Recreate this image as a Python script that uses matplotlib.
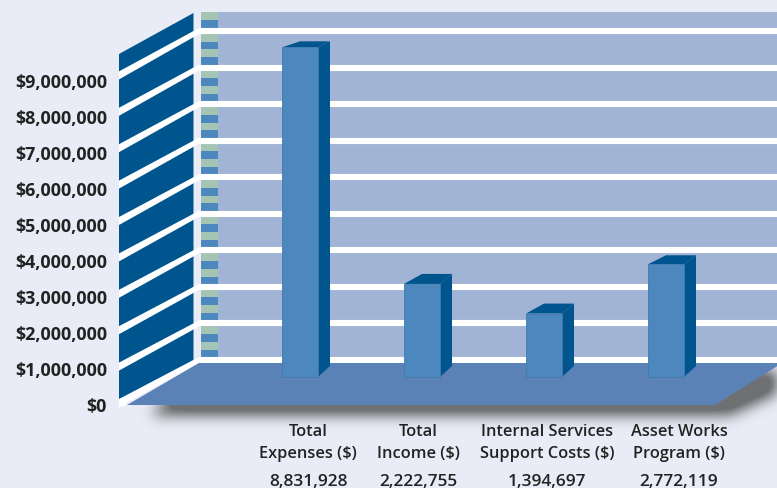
import numpy as np
import matplotlib
matplotlib.use("Agg")
import matplotlib.pyplot as plt
from matplotlib.patches import Polygon, Rectangle
from matplotlib.path import Path

# Budget figures
categories = ["Total\nExpenses ($)", "Total\nIncome ($)",
              "Internal Services\nSupport Costs ($)", "Asset Works\nProgram ($)"]
values = [8831928, 2222755, 1394697, 2772119]
value_labels = ["8,831,928", "2,222,755", "1,394,697", "2,772,119"]
tick_values = list(range(0, 10000000, 1000000))
tick_labels = [f"${v:,}" for v in tick_values]

W, H = 777, 489
BG = "#E9ECF6"
WALL = "#A1B4D6"
FLOOR = "#5B82B6"
DARK = "#00558F"
BAR = "#4C87BE"
GREEN = "#A4C4B4"
INK = "#222222"

plt.rcParams["font.family"] = ["Open Sans", "DejaVu Sans"]

fig = plt.figure(figsize=(W / 100, H / 100), dpi=100, facecolor=BG)

# Scene axes work in pixel-like units, y downward
ax = fig.add_axes([0, 0, 1, 1])
ax.set_xlim(0, W)
ax.set_ylim(H, 0)
ax.axis("off")

# Soft shadow under the floor; the outline is closed explicitly for the hit test
floor_pts = [(127, 406), (199, 364), (W + 2, 364), (W + 2, 366), (715, 406)]
shadow_pts = [(150, 416), (199, 372), (W + 40, 372), (W + 40, 376), (730, 416), (150, 416)]
gx, gy = np.meshgrid(np.arange(W), np.arange(H))
mask = Path(shadow_pts).contains_points(np.c_[gx.ravel() + .5, gy.ravel() + .5]).reshape(H, W).astype(float)
kernel = np.exp(-0.5 * (np.arange(-30, 31) / 7.0) ** 2)
kernel /= kernel.sum()
blur = np.apply_along_axis(lambda r: np.convolve(r, kernel, mode="same"), 0, mask)
blur = np.apply_along_axis(lambda r: np.convolve(r, kernel, mode="same"), 1, blur)
rgba = np.zeros((H, W, 4))
rgba[..., :3] = 0.3
rgba[..., 3] = np.clip(blur, 0, 0.78)
ax.imshow(rgba, extent=(0, W, H, 0), aspect="auto", zorder=1, interpolation="bilinear")
ax.set_xlim(0, W)
ax.set_ylim(H, 0)

# Back wall
ax.add_patch(Rectangle((218, 13), W - 218, 352, fc=WALL, ec="none", zorder=2))

# Side wall panel
ax.add_patch(Polygon([(119, 55), (193.5, 14), (193.5, 362), (119, 404)], fc=DARK, ec="none", zorder=2))

# Gridlines on both walls, with the striped strip between each pair
back_y = [361 - 36.55 * k for k in range(len(tick_values) + 1)]
side_y = [404 - 36.4 * k for k in range(len(tick_values))]
for k, tick in enumerate(tick_values):
    y = back_y[k]
    ax.plot([199, W + 2], [y, y], color="white", lw=4.4, solid_capstyle="butt", zorder=3)
    ax.add_patch(Polygon([(119, side_y[k] - 4), (199, y - 3), (199, y + 3), (119, side_y[k] + 4)],
                         fc="white", ec="none", zorder=3))
for k in range(len(tick_values)):
    bottom = back_y[k] - 2.6
    colours = [BAR, GREEN, BAR, GREEN] if k < 9 else [BAR, GREEN]
    if k == 9:
        bottom = 29
    for j, c in enumerate(colours):
        ax.add_patch(Rectangle((201, bottom - 7.8 * (j + 1)), 17, 7.8, fc=c, ec="none", zorder=2.5))

# Floor
ax.add_patch(Polygon(floor_pts, fc=FLOOR, ec="none", zorder=4))
ax.add_patch(Polygon([(119, 400), (126, 400), (127, 406), (119, 408)], fc="white", ec="none", zorder=3))

# Value scale labels beside the side wall
for k, label in enumerate(tick_labels):
    ax.text(107, 407 - 36 * k, label, ha="right", va="center", fontsize=12.9,
            fontweight="bold", color=INK, zorder=6)

# Bars use a dollar scale sharing the same canvas
px_per_dollar = 35.8e-6
zero_px = 364.5
bar_ax = fig.add_axes([0, 0, 1, 1], facecolor="none")
bar_ax.axis("off")
bar_ax.set_xlim(0, W)
bar_ax.set_ylim((zero_px - H) / px_per_dollar, zero_px / px_per_dollar)

to_dollars = lambda px: (zero_px - px) / px_per_dollar
bar_x = [300, 422, 544, 666]
bar_w = 36
depth_x = 12
rise_top = [6, 10, 10, 9]
rise_base = 11
floor_front = to_dollars(378)
for x, v, rise in zip(bar_x, values, rise_top):
    left, right = x - bar_w / 2, x + bar_w / 2
    rise_d = rise / px_per_dollar
    base_d = rise_base / px_per_dollar
    bar_ax.add_patch(Polygon([(right, floor_front), (right + depth_x, floor_front + base_d),
                              (right + depth_x, v + rise_d), (right, v)],
                             fc=DARK, ec="none", zorder=3))
    bar_ax.add_patch(Polygon([(left, v), (left + 18, v + rise_d), (right + depth_x, v + rise_d), (right, v)],
                             fc=DARK, ec="none", zorder=3))
    bar_ax.bar(x, v - floor_front, width=bar_w, bottom=floor_front, color=BAR,
               edgecolor="#4279AE", linewidth=0.6, zorder=4)

# Category captions and stated amounts
label_x = [308, 418, 547, 679]
for x, name, amount in zip(label_x, categories, value_labels):
    first, second = name.split("\n")
    ax.text(x, 432, first, ha="center", va="center", fontsize=11.8, fontweight="semibold", color=INK, zorder=6)
    ax.text(x, 454, second, ha="center", va="center", fontsize=11.8, fontweight="semibold", color=INK, zorder=6)
    ax.text(x, 482, amount, ha="center", va="center", fontsize=12.4, fontweight="semibold", color=INK, zorder=6)

fig.savefig("out.png", dpi=100, facecolor=BG)
